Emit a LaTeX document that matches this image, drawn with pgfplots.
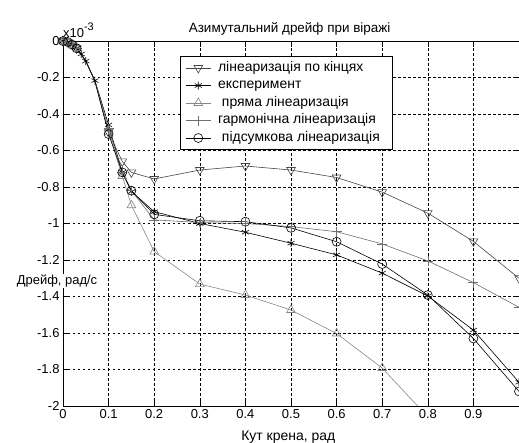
\documentclass[border=0pt]{standalone}
\usepackage{fontspec}
\setmainfont{Liberation Sans}
\usepackage{pgfplots}
\pgfplotsset{compat=1.18}
\definecolor{sirA}{RGB}{70,70,70}
\definecolor{sirC}{RGB}{135,135,135}
\definecolor{sirD}{RGB}{110,110,110}

\begin{document}
\begin{tikzpicture}
\begin{axis}[
  name=ax,
  scale only axis, width=456bp, height=365bp,
  at={(0,0)}, anchor=south west,
  xmin=0, xmax=1, ymin=-2, ymax=0,
  xtick={0,0.1,...,0.91}, ytick={-2,-1.8,...,0.01},
  scaled ticks=false,
  xticklabel style={/pgf/number format/fixed, /pgf/number format/precision=1},
  yticklabel style={/pgf/number format/fixed, /pgf/number format/precision=1},
  /pgf/number format/assume math mode=true,
  tick align=inside, major tick length=6bp,
  tick style={black, line width=0.6bp},
  axis line style={line width=0.8bp},
  grid=major,
  major grid style={black, line width=0.6bp, dash pattern=on 2.5bp off 2.5bp},
  tick label style={font=\fontsize{13}{15}\selectfont},
  title={Азимутальний дрейф при віражі},
  every axis title/.style={at={(axis description cs:0.497,1.032)}, anchor=center,
    font=\fontsize{13.5}{15}\selectfont},
  xlabel={Кут крена, рад},
  every axis x label/.style={at={(axis description cs:0.494,-0.085)}, anchor=center,
    font=\fontsize{14}{16}\selectfont},
  legend style={at={(axis description cs:0.257,0.959)}, anchor=north west,
    draw=black, fill=white, line width=0.6bp, font=\fontsize{14}{16}\selectfont,
    row sep=0bp, inner xsep=5bp, inner ysep=3bp,
    nodes={inner xsep=7bp, inner ysep=2.5bp, text height=9.5bp, text depth=3bp}},
  legend cell align=left,
  every axis plot/.append style={line width=0.6bp},
  legend image code/.code={
    \draw[mark indices={2}, mark repeat=1] plot coordinates {(0bp,0bp) (12.5bp,0bp) (25bp,0bp)};},
]
% лінеаризація по кінцях
\addplot[sirA, mark=triangle, mark size=5bp, mark options={rotate=180, solid},
  mark indices={1,2,3,4,7,8,9,10,11,12,13,14,15,16,17,18}] coordinates {
  (0,0) (0.01,-0.005) (0.02,-0.02) (0.03,-0.04) (0.05,-0.11) (0.07,-0.22)
  (0.1,-0.5) (0.13,-0.66) (0.15,-0.72) (0.2,-0.756) (0.3,-0.707) (0.4,-0.685)
  (0.5,-0.707) (0.6,-0.748) (0.7,-0.828) (0.8,-0.943) (0.9,-1.098) (1.0,-1.3)};
\addlegendentry{лінеаризація по кінцях}
% експеримент
\addplot[black, mark=asterisk, mark size=4bp] coordinates {
  (0,0) (0.01,-0.005) (0.02,-0.02) (0.03,-0.04) (0.04,-0.071) (0.05,-0.11) (0.07,-0.217)
  (0.1,-0.46) (0.13,-0.72) (0.15,-0.825) (0.2,-0.935) (0.3,-1.0) (0.4,-1.048)
  (0.5,-1.108) (0.6,-1.172) (0.7,-1.272) (0.8,-1.397) (0.9,-1.584) (1.0,-1.87)};
\addlegendentry{експеримент}
% пряма лінеаризація
\addplot[sirC, mark=triangle, mark size=5bp,
  mark indices={1,2,3,4,7,8,9,10,11,12,13,14,15,16,17}] coordinates {
  (0,0) (0.01,-0.005) (0.02,-0.02) (0.03,-0.04) (0.05,-0.11) (0.07,-0.22)
  (0.1,-0.5) (0.13,-0.74) (0.15,-0.9) (0.2,-1.154) (0.3,-1.332) (0.4,-1.392)
  (0.5,-1.474) (0.6,-1.603) (0.7,-1.792) (0.8,-2.06) (0.9,-2.4)};
\addlegendentry{\ пряма лінеаризація}
% гармонічна лінеаризація
\addplot[sirD, mark=+, mark size=5bp,
  mark indices={1,2,3,4,7,8,9,10,11,12,13,14,15,16,17,18}] coordinates {
  (0,0) (0.01,-0.005) (0.02,-0.02) (0.03,-0.04) (0.05,-0.11) (0.07,-0.22)
  (0.1,-0.48) (0.13,-0.72) (0.15,-0.82) (0.2,-0.98) (0.3,-0.995) (0.4,-1.0)
  (0.5,-1.017) (0.6,-1.045) (0.7,-1.112) (0.8,-1.205) (0.9,-1.324) (1.0,-1.459)};
\addlegendentry{гармонічна лінеаризація}
% підсумкова лінеаризація
\addplot[black, mark=o, mark size=4.5bp,
  mark indices={1,2,3,4,7,8,9,10,11,12,13,14,15,16,17,18}] coordinates {
  (0,0) (0.01,-0.005) (0.02,-0.02) (0.03,-0.04) (0.05,-0.11) (0.07,-0.22)
  (0.1,-0.51) (0.13,-0.72) (0.15,-0.82) (0.2,-0.95) (0.3,-0.985) (0.4,-0.99)
  (0.5,-1.024) (0.6,-1.1) (0.7,-1.222) (0.8,-1.392) (0.9,-1.63) (1.0,-1.92)};
\addlegendentry{\ підсумкова лінеаризація}
\end{axis}
\node[anchor=south west, inner sep=0pt, font=\fontsize{13}{15}\selectfont]
  at ([yshift=3bp]ax.north west) {x10\raisebox{7bp}{\fontsize{11}{12}\selectfont -3}};
\node[anchor=center, inner sep=0.5bp, fill=white, font=\fontsize{13}{15}\selectfont]
  at ([xshift=-6bp, yshift=125bp]ax.south west) {Дрейф, рад/с};
\pgfresetboundingbox
\useasboundingbox (-63bp,-37bp) rectangle (456bp,406bp);
\end{tikzpicture}
\end{document}
